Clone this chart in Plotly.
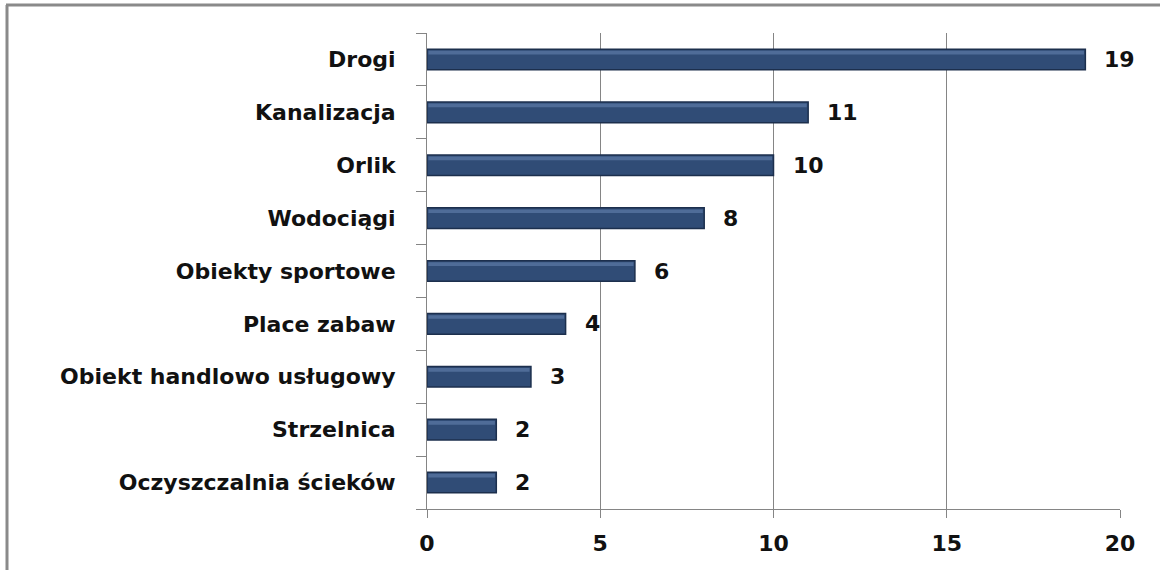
import plotly.graph_objects as go

categories = ["Drogi", "Kanalizacja", "Orlik", "Wodociągi", "Obiekty sportowe",
              "Place zabaw", "Obiekt handlowo usługowy", "Strzelnica", "Oczyszczalnia ścieków"]
values = [19, 11, 10, 8, 6, 4, 3, 2, 2]
x_ticks = [0, 5, 10, 15, 20]

W, H = 1160, 570
L, R, T, B = 427, 40, 33, 61
pw = W - L - R
ph = H - T - B

font_fam = "DejaVu Sans"
fsize = 22

fig = go.Figure()
fig.add_trace(go.Bar(
    y=categories, x=values, orientation="h", width=0.39, offset=-0.195,
    marker=dict(color="#304C76", line=dict(color="#1C2F4D", width=1.5)),
    hoverinfo="skip", showlegend=False,
))
# subtle highlight band near top of each bar (gradient imitation)
fig.add_trace(go.Bar(
    y=categories, x=[v - 0.08 for v in values], orientation="h", width=0.07, offset=-0.165,
    base=0.04,
    marker=dict(color="#4F6C98", line=dict(width=0)),
    hoverinfo="skip", showlegend=False,
))

annotations = []
for c, v in zip(categories, values):
    annotations.append(dict(x=v, y=c, xref="x", yref="y", text="<b>%d</b>" % v,
                            showarrow=False, xanchor="left", xshift=17,
                            font=dict(family=font_fam, size=fsize, color="#111111")))

def px2paper_x(px):
    return (px - L) / pw

def px2paper_y(py):
    return 1 - (py - T) / ph

shapes = [
    dict(type="line", xref="paper", yref="paper",
         x0=px2paper_x(7), x1=px2paper_x(7), y0=px2paper_y(5), y1=px2paper_y(570),
         line=dict(color="#8a8a8a", width=3)),
    dict(type="line", xref="paper", yref="paper",
         x0=px2paper_x(6), x1=px2paper_x(1160), y0=px2paper_y(5), y1=px2paper_y(5),
         line=dict(color="#8a8a8a", width=3)),
]

fig.update_layout(
    width=W, height=H,
    margin=dict(l=L, r=R, t=T, b=B, pad=0),
    paper_bgcolor="white", plot_bgcolor="white",
    annotations=annotations, shapes=shapes,
    barmode="overlay",
    font=dict(family=font_fam, size=fsize, color="#111111"),
)
fig.update_xaxes(
    range=[0, 20], tickvals=x_ticks, ticktext=["<b>%d</b>" % t for t in x_ticks],
    showgrid=True, gridcolor="#858585", gridwidth=1,
    showline=True, linecolor="#858585", linewidth=1,
    ticks="outside", ticklen=8, tickcolor="#858585",
    ticklabelstandoff=7, zeroline=False,
    tickfont=dict(family=font_fam, size=fsize, color="#111111"),
)
fig.update_yaxes(
    categoryorder="array", categoryarray=categories, autorange="reversed",
    tickvals=categories, ticktext=["<b>%s</b>" % c for c in categories],
    showline=True, linecolor="#858585", linewidth=1,
    ticks="outside", tickson="boundaries", ticklen=10, tickcolor="#858585",
    ticklabelstandoff=26, showgrid=False, zeroline=False,
    tickfont=dict(family=font_fam, size=fsize, color="#111111"),
)

fig.write_html("out.html", config={"displayModeBar": False},
               post_script="document.body.style.margin='0';document.body.style.padding='0';")
